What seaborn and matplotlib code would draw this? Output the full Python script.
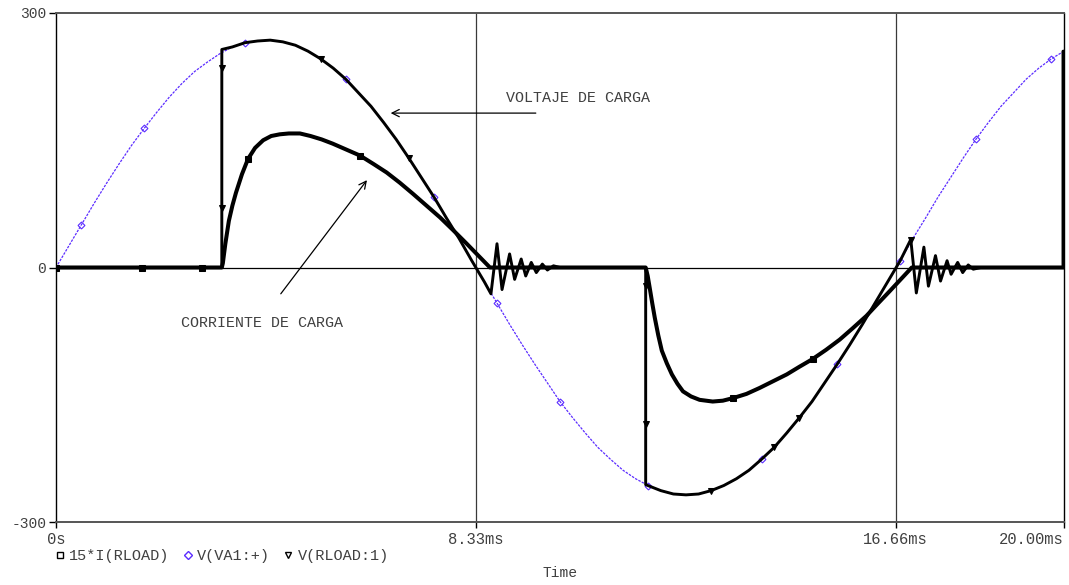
import matplotlib
matplotlib.use("Agg")
import matplotlib.pyplot as plt
from matplotlib.lines import Line2D
import pandas as pd
import seaborn as sns

# ---- waveform samples (time in ms) ----
# source voltage V(VA1:+), every 0.25 ms
t_src = [0.0, 0.25, 0.5, 0.75, 1.0, 1.25, 1.5, 1.75, 2.0, 2.25, 2.5, 2.75,
         3.0, 3.25, 3.5, 3.75, 4.0, 4.25, 4.5, 4.75, 5.0, 5.25, 5.5, 5.75,
         6.0, 6.25, 6.5, 6.75, 7.0, 7.25, 7.5, 7.75, 8.0, 8.25, 8.5, 8.75,
         9.0, 9.25, 9.5, 9.75, 10.0, 10.25, 10.5, 10.75, 11.0, 11.25, 11.5,
         11.75, 12.0, 12.25, 12.5, 12.75, 13.0, 13.25, 13.5, 13.75, 14.0,
         14.25, 14.5, 14.75, 15.0, 15.25, 15.5, 15.75, 16.0, 16.25, 16.5,
         16.75, 17.0, 17.25, 17.5, 17.75, 18.0, 18.25, 18.5, 18.75, 19.0,
         19.25, 19.5, 19.75, 20.0]
v_src = [0, 25, 50, 75, 99, 122, 144, 164, 183, 201, 217, 231,
         242, 252, 260, 265, 267, 268, 266, 262, 255, 246, 235, 222,
         206, 190, 171, 151, 129, 106, 83, 58, 34, 8, -17, -42,
         -67, -91, -114, -136, -158, -177, -195, -212, -226, -239, -249,
         -257, -263, -267, -268, -267, -263, -257, -249, -239, -226,
         -212, -195, -177, -158, -136, -114, -91, -67, -42, -17,
         8, 34, 58, 83, 106, 129, 151, 171, 190, 206,
         222, 235, 246, 255]

# load voltage V(RLOAD:1)
t_load = [0.0, 3.29, 3.29, 3.29, 3.29, 3.5, 3.75, 4.0, 4.25, 4.5, 4.75, 5.0,
          5.25, 5.5, 5.75, 6.0, 6.25, 6.5, 6.75, 7.0, 7.25, 7.5, 7.75, 8.0,
          8.25, 8.5, 8.63, 8.75, 8.85, 9.0, 9.1, 9.23, 9.32, 9.43, 9.53,
          9.65, 9.75, 9.87, 10.0, 11.7, 11.7, 11.7, 11.7, 12.0, 12.25, 12.5,
          12.75, 13.0, 13.25, 13.5, 13.75, 14.0, 14.25, 14.5, 14.75, 15.0,
          15.25, 15.5, 15.75, 16.0, 16.25, 16.5, 16.75, 16.96, 17.07, 17.22,
          17.31, 17.45, 17.55, 17.68, 17.76, 17.89, 17.99, 18.1, 18.2, 18.35,
          19.98, 19.98, 20.0]
v_load = [0, 0, 70, 235, 257, 260, 265, 267, 268, 266, 262, 255,
          246, 235, 222, 206, 190, 171, 151, 129, 106, 83, 58, 34,
          8, -17, -31, 28, -26, 16, -14, 10, -10, 6, -6,
          4, -3, 2, 0, 0, -22, -185, -256, -263, -267, -268,
          -267, -263, -257, -249, -239, -226, -212, -195, -177, -158,
          -136, -114, -91, -67, -42, -17, 8, 33, -30, 24,
          -22, 14, -16, 8, -8, 6, -6, 3, -2, 0,
          0, 255, 255]

# load current scaled by 15: 15*I(RLOAD)
t_cur = [0.0, 1.7, 2.9, 3.29, 3.31, 3.36, 3.43, 3.50, 3.57, 3.69, 3.81, 3.95,
         4.11, 4.27, 4.44, 4.62, 4.84, 5.05, 5.27, 5.49, 5.76, 6.03, 6.30,
         6.56, 6.82, 7.08, 7.35, 7.62, 7.88, 8.15, 8.38, 8.61, 9.8, 11.70,
         11.74, 11.78, 11.83, 11.88, 11.95, 12.02, 12.12, 12.22, 12.33,
         12.44, 12.60, 12.77, 13.03, 13.23, 13.43, 13.70, 13.96, 14.23,
         14.50, 14.75, 15.01, 15.28, 15.55, 15.80, 16.08, 16.30, 16.54,
         16.76, 16.98, 18.5, 20.0]
i_cur = [0, 0, 0, 0, 5, 28, 55, 73, 88, 110, 128, 141,
         150, 155, 157, 158, 158, 155, 151, 146, 139, 132, 122,
         112, 100, 87, 73, 59, 44, 28, 14, 0, 0, 0,
         -10, -24, -42, -59, -80, -98, -113, -126, -137,
         -146, -152, -156, -158, -157, -154, -149, -142, -134,
         -126, -117, -108, -97, -85, -72, -57, -43, -28,
         -14, 0, 0, 0]

y_ticks = [-300, 0, 300]
y_tick_labels = ["-300", "0", "300"]
x_ticks = [0.0, 8.33, 16.66, 20.0]
x_tick_labels = ["0s", "8.33ms", "16.66ms", "20.00ms"]
legend_labels = ["15*I(RLOAD)", "V(VA1:+)", "V(RLOAD:1)"]

src_df = pd.DataFrame({"t": t_src, "v": v_src})
load_df = pd.DataFrame({"t": t_load, "v": v_load})
cur_df = pd.DataFrame({"t": t_cur, "v": i_cur})

sns.set_theme(style="white")
plt.rcParams["font.family"] = ["Liberation Mono", "DejaVu Sans Mono"]

TXT = "#404040"
SRC = "#5b2cff"

fig = plt.figure(figsize=(10.69, 5.85), dpi=100)
ax = fig.add_axes([56 / 1069, 1 - 522 / 585, 1008 / 1069, 509 / 585])

# reference lines
ax.axhline(0, color="black", lw=0.9, zorder=1)
for xv in (8.33, 16.66):
    ax.axvline(xv, color="#3a3a3a", lw=0.9, zorder=1)

# source voltage: thin dotted violet trace with open diamonds
sns.lineplot(data=src_df, x="t", y="v", ax=ax, estimator=None, sort=False,
             color=SRC, lw=0.9, linestyle=(0, (2, 1)),
             marker="D", markevery=[2, 7, 15, 23, 30, 35, 40, 47, 56, 62, 67, 73, 79],
             markersize=3.5, markerfacecolor="none", markeredgecolor=SRC,
             markeredgewidth=0.8, zorder=2)

# scaled load current
sns.lineplot(data=cur_df, x="t", y="v", ax=ax, estimator=None, sort=False,
             color="black", lw=2.9, marker="s",
             markevery=[0, 1, 2, 10, 21, 48, 54], markersize=4.5,
             markerfacecolor="black", markeredgecolor="black",
             solid_joinstyle="round", zorder=3)

# load voltage
sns.lineplot(data=load_df, x="t", y="v", ax=ax, estimator=None, sort=False,
             color="black", lw=2.1, marker="v",
             markevery=[2, 3, 12, 19, 40, 41, 47, 52, 54, 63], markersize=4.5,
             markerfacecolor="black", markeredgecolor="black",
             solid_joinstyle="round", zorder=4)

ax.set_xlim(0, 20)
ax.set_ylim(-300, 300)

ax.set_yticks(y_ticks)
ax.set_yticklabels(y_tick_labels)
ax.set_xticks(x_ticks)
ax.set_xticklabels(x_tick_labels)
ax.xaxis.get_majorticklabels()[-1].set_ha("right")

ax.tick_params(axis="both", which="both", direction="out",
               width=1.0, color="black", labelcolor=TXT)
ax.tick_params(axis="y", length=5, pad=2, left=True, labelsize=10.5)
ax.tick_params(axis="x", length=4, pad=3, bottom=True, labelsize=11.2)

for side in ("left", "right"):
    ax.spines[side].set_color("black")
    ax.spines[side].set_linewidth(1.0)
for side in ("top", "bottom"):
    ax.spines[side].set_color("#555555")
    ax.spines[side].set_linewidth(1.4)

ax.set_xlabel("Time", fontsize=10.5, color=TXT)
ax.set_ylabel("")
ax.xaxis.set_label_coords(0.5, -(573 - 522) / 509)
ax.xaxis.label.set_va("center")

# annotations
ax.text(8.93, 199.6, "VOLTAJE DE CARGA", fontsize=10.8, color=TXT,
        ha="left", va="center")
ax.annotate("", xy=(6.64, 182), xytext=(9.52, 182),
            arrowprops=dict(arrowstyle="->", lw=0.9, color="black",
                            mutation_scale=13, shrinkA=0, shrinkB=0))
ax.text(2.48, -65, "CORRIENTE DE CARGA", fontsize=10.8, color=TXT,
        ha="left", va="center")
ax.annotate("", xy=(6.17, 103), xytext=(4.46, -31),
            arrowprops=dict(arrowstyle="->", lw=0.9, color="black",
                            mutation_scale=13, shrinkA=0, shrinkB=0))

# legend below the axis, starting under the origin
handles = [
    Line2D([], [], linestyle="none", marker="s", markersize=4.5,
           markerfacecolor="white", markeredgecolor="black", markeredgewidth=1.0),
    Line2D([], [], linestyle="none", marker="D", markersize=4,
           markerfacecolor="white", markeredgecolor=SRC, markeredgewidth=1.0),
    Line2D([], [], linestyle="none", marker="v", markersize=5,
           markerfacecolor="white", markeredgecolor="black", markeredgewidth=1.0),
]
leg = fig.legend(handles, legend_labels, loc="center left",
                 bbox_to_anchor=(54 / 1069, 1 - 556 / 585), ncol=3,
                 frameon=False, fontsize=11, handlelength=0.8,
                 handletextpad=0.2, columnspacing=0.8, borderaxespad=0,
                 borderpad=0)
for txt in leg.get_texts():
    txt.set_color(TXT)

fig.savefig("out.png", dpi=100, facecolor="white")
